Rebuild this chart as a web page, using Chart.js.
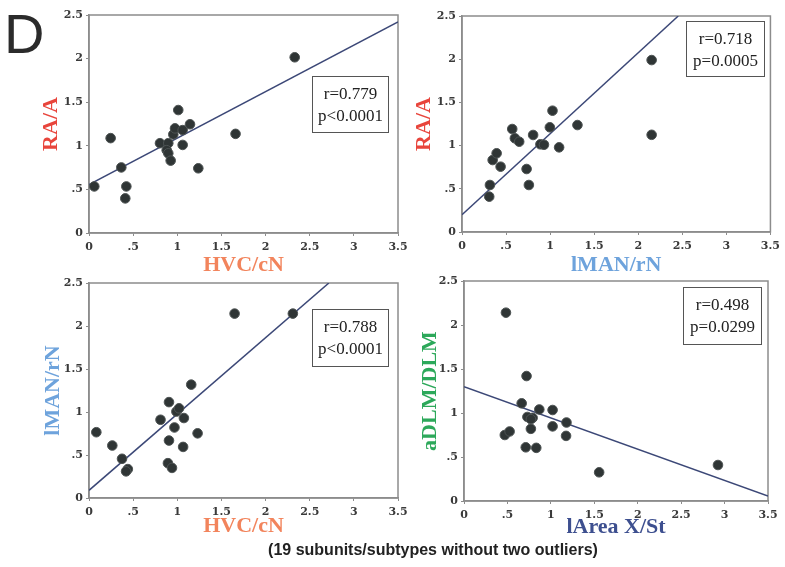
<!DOCTYPE html>
<html><head><meta charset="utf-8">
<script src="https://cdn.jsdelivr.net/npm/chart.js@4.4.1/dist/chart.umd.min.js"></script>
<style>
html,body{margin:0;padding:0;background:#fff;}
#wrap{position:relative;width:785px;height:567px;overflow:hidden;background:#fff;}
canvas{position:absolute;left:0;top:0;}
.stat{position:absolute;border:1px solid #555;font:17px "Liberation Serif",serif;line-height:22px;color:#222;text-align:center;box-sizing:border-box;padding-top:6px;}
#letter{position:absolute;left:4px;top:6px;font:56px "Liberation Sans",Arial,sans-serif;line-height:56px;color:#2b2b2b;}
#caption{position:absolute;left:0;width:866px;top:540px;text-align:center;font:bold 16px "Liberation Sans",Arial,sans-serif;line-height:20px;color:#222;}
</style></head><body>
<div id="wrap">
<canvas id="c1" width="785" height="567"></canvas>
<canvas id="c2" width="785" height="567"></canvas>
<canvas id="c3" width="785" height="567"></canvas>
<canvas id="c4" width="785" height="567"></canvas>
<div id="letter">D</div>
<div class="stat" style="left:312px;top:76px;width:77px;height:57px">r=0.779<br>p&lt;0.0001</div>
<div class="stat" style="left:686px;top:21px;width:79px;height:56px">r=0.718<br>p=0.0005</div>
<div class="stat" style="left:312px;top:309px;width:77px;height:58px">r=0.788<br>p&lt;0.0001</div>
<div class="stat" style="left:683px;top:287px;width:79px;height:58px">r=0.498<br>p=0.0299</div>
<div id="caption">(19 subunits/subtypes without two outliers)</div>
</div>
<script>
const xTickLabels = ['0','.5','1','1.5','2','2.5','3','3.5'];
const yTickLabels = ['0','.5','1','1.5','2','2.5'];

// Panel 1: HVC/cN (x) vs RA/A (y)
const p1X = [0.06,0.245,0.366,0.423,0.411,0.804,0.898,0.88,0.898,0.925,0.955,0.974,1.011,1.061,1.061,1.144,1.238,1.66,2.33];
const p1Y = [0.534,1.088,0.752,0.534,0.397,1.03,1.03,0.95,0.914,0.83,1.13,1.20,1.41,1.18,1.01,1.247,0.742,1.137,2.015];
const fit1X = [0, 3.5];
const fit1Y = [0.555, 2.42];

// Panel 2: lMAN/rN (x) vs RA/A (y)
const p2X = [0.309,0.317,0.348,0.393,0.438,0.57,0.60,0.649,0.733,0.759,0.807,0.89,0.93,0.997,1.027,1.102,1.31,2.152,2.152];
const p2Y = [0.409,0.544,0.833,0.911,0.756,1.192,1.085,1.045,0.729,0.544,1.123,1.015,1.01,1.212,1.404,0.98,1.238,1.99,1.125];
const fit2X = [0, 2.454];
const fit2Y = [0.20, 2.5];

// Panel 3: HVC/cN (x) vs lMAN/rN (y)
const p3X = [0.083,0.264,0.374,0.44,0.42,0.81,0.906,0.906,0.894,0.94,0.968,0.99,1.02,1.075,1.066,1.158,1.23,1.649,2.309];
const p3Y = [0.765,0.61,0.456,0.336,0.31,0.91,1.115,0.668,0.405,0.35,0.82,1.005,1.043,0.93,0.594,1.318,0.752,2.144,2.144];
const fit3X = [0, 2.717];
const fit3Y = [0.089, 2.5];

// Panel 4: lArea X/St (x) vs aDLM/DLM (y)
const p4X = [0.483,0.72,0.664,0.867,1.02,0.73,0.79,0.77,0.77,1.02,1.18,0.47,0.525,1.175,0.711,0.832,1.556,2.924];
const p4Y = [2.14,1.42,1.11,1.04,1.034,0.955,0.945,0.93,0.82,0.848,0.892,0.75,0.79,0.74,0.61,0.604,0.326,0.409];
const fit4X = [0, 3.5];
const fit4Y = [1.30, 0.057];

const W = 785, H = 567;
const tickFont = {family:'"DejaVu Serif", serif', size:11, weight:'bold'};
const titleFont = {family:'"Liberation Serif", serif', size:22, weight:'bold'};

const frame = {
  id:'frame',
  beforeDatasetsDraw(chart){
    const {ctx, chartArea:a} = chart;
    ctx.save();
    ctx.strokeStyle = '#8c8c8c';
    ctx.lineWidth = 1.5;
    ctx.strokeRect(a.left, a.top, a.right - a.left, a.bottom - a.top);
    ctx.restore();
  }
};

function makePanel(id, c){
  new Chart(document.getElementById(id), {
    type:'scatter',
    data:{datasets:[
      {data:c.xs.map((x,i)=>({x:x, y:c.ys[i]})), backgroundColor:'#2f3535', borderColor:'#4d5353', borderWidth:1, pointRadius:4.8, pointHoverRadius:4.8},
      {type:'line', data:c.fx.map((x,i)=>({x:x, y:c.fy[i]})), borderColor:'#3c4877', borderWidth:1.5, pointRadius:0, fill:false, tension:0}
    ]},
    options:{
      responsive:false, animation:false, events:[],
      plugins:{legend:{display:false}, tooltip:{enabled:false}},
      layout:{padding:{left:c.padL, top:c.T, right:W - c.R, bottom:c.padB}},
      scales:{
        x:{type:'linear', min:0, max:3.5,
          afterFit:s=>{s.height = H - c.B - c.padB;},
          ticks:{stepSize:0.5, autoSkip:false, maxRotation:0, padding:5, color:'#3a3a3a', font:tickFont,
                 callback:(v)=>xTickLabels[Math.round(v/0.5)]},
          grid:{display:true, drawOnChartArea:false, drawTicks:true, tickLength:3, color:'#8c8c8c'},
          border:{display:true, color:'#8c8c8c', width:1.5},
          title:{display:true, text:c.xTitle, color:c.xColor, font:titleFont, padding:{top:0,bottom:0}}
        },
        y:{type:'linear', min:0, max:2.5,
          afterFit:s=>{s.width = c.L - c.padL;},
          ticks:{stepSize:0.5, autoSkip:false, padding:3, color:'#3a3a3a', font:tickFont,
                 callback:(v)=>yTickLabels[Math.round(v/0.5)]},
          grid:{display:true, drawOnChartArea:false, drawTicks:true, tickLength:3, color:'#8c8c8c'},
          border:{display:true, color:'#8c8c8c', width:1.5},
          title:{display:true, text:c.yTitle, color:c.yColor, font:titleFont, padding:{top:0,bottom:0}}
        }
      }
    },
    plugins:[frame]
  });
}

const red = '#e8453c', orange = '#f2845c', lblue = '#6ea3dc', green = '#2ca85a', dblue = '#3d4f8f';

makePanel('c1', {xs:p1X, ys:p1Y, fx:fit1X, fy:fit1Y, L:89, T:15, R:398, B:233, padL:38, padB:288.8,
  xTitle:'HVC/cN', xColor:orange, yTitle:'RA/A', yColor:red});
makePanel('c2', {xs:p2X, ys:p2Y, fx:fit2X, fy:fit2Y, L:462, T:16, R:771, B:232, padL:411, padB:288.8,
  xTitle:'lMAN/rN', xColor:lblue, yTitle:'RA/A', yColor:red});
makePanel('c3', {xs:p3X, ys:p3Y, fx:fit3X, fy:fit3Y, L:89, T:283, R:398, B:498, padL:40, padB:27.8,
  xTitle:'HVC/cN', xColor:orange, yTitle:'lMAN/rN', yColor:lblue});
makePanel('c4', {xs:p4X, ys:p4Y, fx:fit4X, fy:fit4Y, L:464, T:281, R:768, B:501, padL:416.8, padB:26.8,
  xTitle:'lArea X/St', xColor:dblue, yTitle:'aDLM/DLM', yColor:green});
</script>
</body></html>
